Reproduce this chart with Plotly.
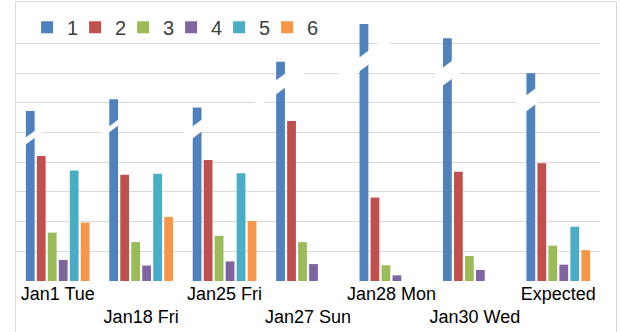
import plotly.graph_objects as go

# Day labels and the six measured series
categories = ["Jan1 Tue", "Jan18 Fri", "Jan25 Fri", "Jan27 Sun", "Jan28 Mon", "Jan30 Wed", "Expected"]
series_names = ["1", "2", "3", "4", "5", "6"]
s1 = [5.73, 6.12, 5.85, 7.39, 8.66, 8.18, 7.00]
s2 = [4.21, 3.58, 4.08, 5.39, 2.81, 3.68, 3.97]
s3 = [1.63, 1.31, 1.52, 1.31, 0.53, 0.84, 1.19]
s4 = [0.71, 0.52, 0.66, 0.57, 0.19, 0.37, 0.55]
s5 = [3.72, 3.61, 3.63, 0.00, 0.00, 0.00, 1.83]
s6 = [1.97, 2.16, 2.02, 0.00, 0.00, 0.00, 1.04]

# Where the axis break cuts through each bar of series 1 (data units)
break_at = [4.83, 5.22, 5.12, 6.64, 7.41, 7.00, 6.10]

# ---- styling ----
colors = ["#4F81BD", "#C0504D", "#9BBB59", "#8064A2", "#4BACC6", "#F79646"]
grid = "#D9D9D9"
break_gap_px = [7, 6, 12, 14, 14, 18, 16]
break_slope = 0.75
break_half_len = 26
bargap = 0.21

# staggered tick labels: every second one drops to a second row
ticktext = [c if i % 2 == 0 else "<br>" + c for i, c in enumerate(categories)]

fig = go.Figure()
n_series = len(series_names)
for k, (name, vals, col) in enumerate(zip(series_names, [s1, s2, s3, s4, s5, s6], colors)):
    fig.add_trace(go.Bar(x=categories, y=vals, name=name, marker_color=col,
                         marker_line_width=0,
                         legendwidth=3 if k < n_series - 1 else 16))

# white slanted bands marking the broken bars of series 1
group_w = 1 - bargap
offset1 = -group_w / 2 + group_w / n_series / 2
shapes = []
for i, (yb, gap) in enumerate(zip(break_at, break_gap_px)):
    L, s, h = break_half_len, break_slope, gap / 2
    path = (f"M{-L},{-s*L - h} L{L},{s*L - h} L{L},{s*L + h} "
            f"L{-L},{-s*L + h} Z")
    shapes.append(dict(type="path", xref="x", yref="y",
                       xsizemode="pixel", ysizemode="pixel",
                       xanchor=i + offset1, yanchor=yb, path=path,
                       fillcolor="white", line=dict(width=0), layer="above"))

# thin outer chart frame
shapes.append(dict(type="rect", xref="paper", yref="paper",
                   x0=-0.0009, x1=1.0283, y0=-1, y1=1.0429,
                   line=dict(color=grid, width=1), fillcolor="rgba(0,0,0,0)",
                   layer="below"))

fig.update_layout(
    width=621, height=332,
    margin=dict(l=16, r=21, t=13, b=51, autoexpand=False),
    paper_bgcolor="white", plot_bgcolor="white",
    barmode="group", bargap=bargap, bargroupgap=0.2,
    showlegend=True,
    legend=dict(orientation="h", x=0.019, xanchor="left", y=0.9466, yanchor="middle",
                font=dict(family="Liberation Sans", size=20, color="#404040"),
                bgcolor="rgba(0,0,0,0)", itemwidth=30,
                traceorder="normal"),
    xaxis=dict(tickmode="array", tickvals=categories, ticktext=ticktext,
               range=[-0.5, len(categories) - 0.5],
               tickangle=0, automargin=False,
               showgrid=False, ticks="", showline=False,
               tickfont=dict(family="Liberation Sans", size=18, color="#000000")),
    yaxis=dict(range=[0, 9.03], dtick=1, showticklabels=False, ticks="",
               automargin=False,
               showgrid=True, gridcolor=grid, gridwidth=1,
               zeroline=False, showline=False),
    shapes=shapes,
)

fig.write_html("out.html")
